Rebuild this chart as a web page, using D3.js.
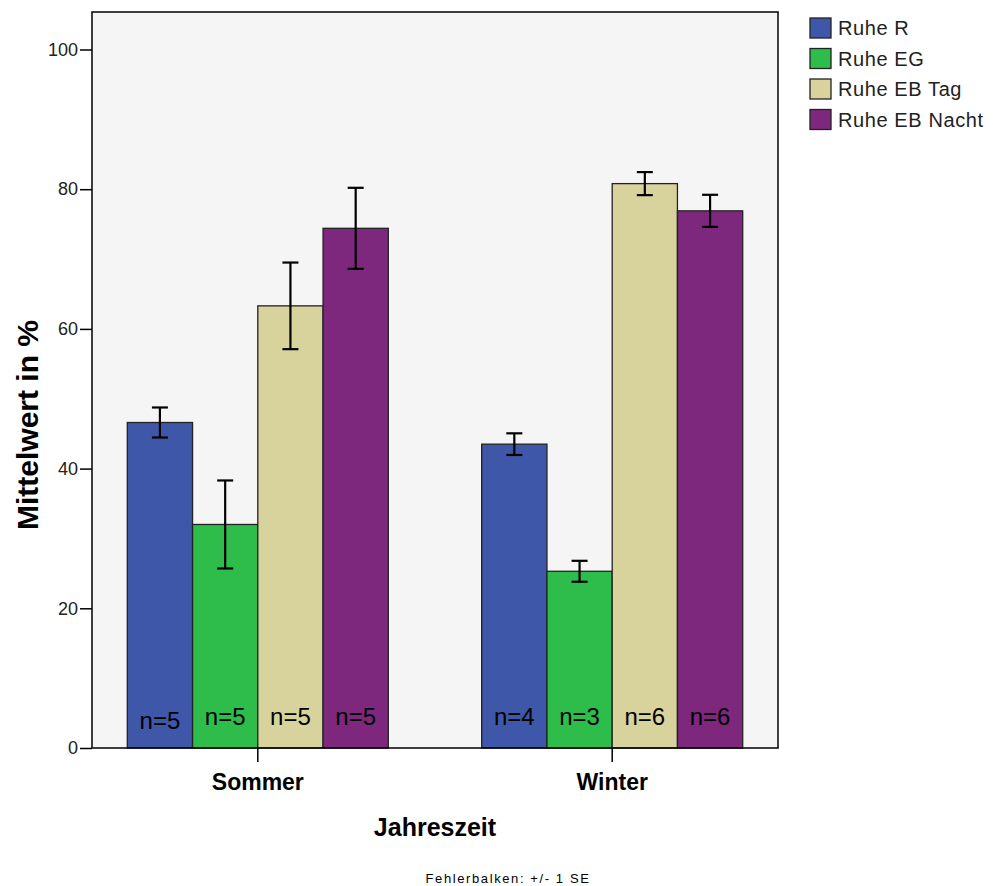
<!DOCTYPE html>
<html>
<head>
<meta charset="utf-8">
<script src="https://cdn.jsdelivr.net/npm/d3@7"></script>
<style>
  body { margin: 0; background: #fff; }
  text { font-family: Arial, "Liberation Sans", sans-serif; }
</style>
</head>
<body>
<script>
var w = 993, h = 886;

// data
var seasons = ["Sommer", "Winter"];
var groups = ["Ruhe R", "Ruhe EG", "Ruhe EB Tag", "Ruhe EB Nacht"];
var colors = ["#3f57a9", "#2ebd4b", "#d8d39c", "#7d287d"];
var sommerMean = [46.6, 32.0, 63.3, 74.4];
var sommerSE = [2.15, 6.3, 6.2, 5.8];
var sommerN = [5, 5, 5, 5];
var winterMean = [43.5, 25.3, 80.8, 76.9];
var winterSE = [1.55, 1.5, 1.65, 2.3];
var winterN = [4, 3, 6, 6];
var yTicks = [0, 20, 40, 60, 80, 100];

var rows = [];
seasons.forEach(function(s, si) {
  var m = si == 0 ? sommerMean : winterMean;
  var se = si == 0 ? sommerSE : winterSE;
  var n = si == 0 ? sommerN : winterN;
  groups.forEach(function(g, gi) {
    rows.push({season: s, group: g, mean: m[gi], se: se[gi], n: n[gi], color: colors[gi]});
  });
});

var plotLeft = 92, plotRight = 778, plotTop = 12, plotBottom = 748;

var svg = d3.select("body")
  .append("svg")
  .attr("width", w)
  .attr("height", h);

var x = d3.scaleBand()
  .domain(seasons)
  .range([plotLeft, plotRight])
  .paddingInner(0.2635)
  .paddingOuter(0.0996);

var xg = d3.scaleBand()
  .domain(groups)
  .range([0, x.bandwidth()]);

var y = d3.scaleLinear()
  .domain([0, 100])
  .range([plotBottom, plotBottom - 698.5]);

// plot background
svg.append("rect")
  .attr("x", plotLeft)
  .attr("y", plotTop)
  .attr("width", plotRight - plotLeft)
  .attr("height", plotBottom - plotTop)
  .style("fill", "#f5f5f5");

// bars
svg.selectAll(".bar")
  .data(rows)
  .enter()
  .append("rect")
  .attr("class", "bar")
  .attr("x", function(d) { return x(d.season) + xg(d.group); })
  .attr("y", function(d) { return y(d.mean); })
  .attr("width", xg.bandwidth())
  .attr("height", function(d) { return plotBottom - y(d.mean); })
  .style("fill", function(d) { return d.color; })
  .style("stroke", "#222")
  .style("stroke-width", 1.3);

// error bars
var eb = svg.selectAll(".err")
  .data(rows)
  .enter()
  .append("g")
  .attr("class", "err")
  .style("stroke", "#000")
  .style("stroke-width", 2.2);

eb.append("line")
  .attr("x1", function(d) { return x(d.season) + xg(d.group) + xg.bandwidth() / 2; })
  .attr("x2", function(d) { return x(d.season) + xg(d.group) + xg.bandwidth() / 2; })
  .attr("y1", function(d) { return y(d.mean + d.se); })
  .attr("y2", function(d) { return y(d.mean - d.se); });

[1, -1].forEach(function(sign) {
  eb.append("line")
    .attr("x1", function(d) { return x(d.season) + xg(d.group) + xg.bandwidth() / 2 - 8; })
    .attr("x2", function(d) { return x(d.season) + xg(d.group) + xg.bandwidth() / 2 + 8; })
    .attr("y1", function(d) { return y(d.mean + sign * d.se); })
    .attr("y2", function(d) { return y(d.mean + sign * d.se); });
});

// n labels
svg.selectAll(".nlab")
  .data(rows)
  .enter()
  .append("text")
  .attr("class", "nlab")
  .attr("x", function(d) { return x(d.season) + xg(d.group) + xg.bandwidth() / 2; })
  .attr("y", function(d, i) { return i == 0 ? 729 : 725; })
  .attr("text-anchor", "middle")
  .style("font-size", "24px")
  .style("fill", "#000")
  .text(function(d) { return "n=" + d.n; });

// frame
svg.append("rect")
  .attr("x", plotLeft)
  .attr("y", plotTop)
  .attr("width", plotRight - plotLeft)
  .attr("height", plotBottom - plotTop)
  .style("fill", "none")
  .style("stroke", "#000")
  .style("stroke-width", 1.5);

// y axis
var yAxis = d3.axisLeft(y)
  .tickValues(yTicks)
  .tickSize(12)
  .tickPadding(2);

var ya = svg.append("g")
  .attr("transform", "translate(" + plotLeft + ",0)")
  .call(yAxis);
ya.select(".domain").remove();
ya.selectAll("line").style("stroke", "#000").style("stroke-width", 1.5);
ya.selectAll("text")
  .style("font-size", "18px")
  .style("font-family", "Arial, 'Liberation Sans', sans-serif")
  .style("fill", "#222");

// x axis
var xAxis = d3.axisBottom(x)
  .tickSize(14)
  .tickPadding(12);

var xa = svg.append("g")
  .attr("transform", "translate(0," + plotBottom + ")")
  .call(xAxis);
xa.select(".domain").remove();
xa.selectAll("line").style("stroke", "#000").style("stroke-width", 1.5);
xa.selectAll("text")
  .style("font-size", "23px")
  .style("font-weight", "bold")
  .style("font-family", "Arial, 'Liberation Sans', sans-serif")
  .style("fill", "#000");

// axis titles
svg.append("text")
  .attr("transform", "translate(38,425) rotate(-90)")
  .attr("text-anchor", "middle")
  .style("font-size", "30px")
  .style("font-weight", "bold")
  .text("Mittelwert in %");

svg.append("text")
  .attr("x", 435)
  .attr("y", 836)
  .attr("text-anchor", "middle")
  .style("font-size", "25px")
  .style("font-weight", "bold")
  .text("Jahreszeit");

svg.append("text")
  .attr("x", 508)
  .attr("y", 883)
  .attr("text-anchor", "middle")
  .style("font-size", "13px")
  .style("letter-spacing", "1.6px")
  .text("Fehlerbalken: +/- 1 SE");

// legend
var legend = svg.selectAll(".legend")
  .data(groups)
  .enter()
  .append("g")
  .attr("class", "legend")
  .attr("transform", function(d, i) { return "translate(810," + (18 + i * 30.5) + ")"; });

legend.append("rect")
  .attr("width", 21)
  .attr("height", 20)
  .style("fill", function(d, i) { return colors[i]; })
  .style("stroke", "#222")
  .style("stroke-width", 1.3);

legend.append("text")
  .attr("x", 28)
  .attr("y", 17)
  .style("font-size", "20px")
  .style("letter-spacing", "0.6px")
  .style("fill", "#222")
  .text(function(d) { return d; });
</script>
</body>
</html>
